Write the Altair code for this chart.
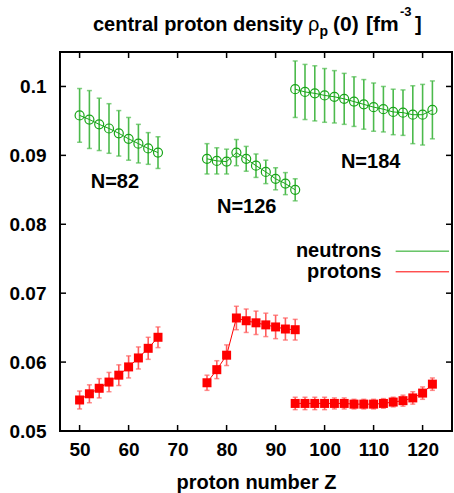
import altair as alt
import pandas as pd

# ---------------- data ----------------
z82 = [50, 52, 54, 56, 58, 60, 62, 64, 66]
n82 = [0.0958, 0.0952, 0.0945, 0.0939, 0.0932, 0.0924, 0.0917, 0.0910, 0.0904]
n82_err = [0.0039, 0.0042, 0.0038, 0.0036, 0.0033, 0.0031, 0.0028, 0.0023, 0.0023]
p82 = [0.0545, 0.0554, 0.0562, 0.0571, 0.0581, 0.0593, 0.0606, 0.0620, 0.0636]
p82_err = [0.0013, 0.0013, 0.0014, 0.0014, 0.0015, 0.0016, 0.0016, 0.0016, 0.0015]

z126 = [76, 78, 80, 82, 84, 86, 88, 90, 92, 94]
n126 = [0.0895, 0.0892, 0.0891, 0.0904, 0.0895, 0.0885, 0.0876, 0.0866, 0.0859, 0.0850]
n126_err = [0.0022, 0.0019, 0.0018, 0.0019, 0.0018, 0.0017, 0.0017, 0.0016, 0.0016, 0.0016]
p126 = [0.0570, 0.0589, 0.0610, 0.0664, 0.0660, 0.0657, 0.0654, 0.0651, 0.0648, 0.0647]
p126_err = [0.0011, 0.0013, 0.0015, 0.0017, 0.0017, 0.0017, 0.0017, 0.0017, 0.0016, 0.0015]

z184 = [94, 96, 98, 100, 102, 104, 106, 108, 110, 112, 114, 116, 118, 120, 122]
n184 = [0.0996, 0.0992, 0.0990, 0.0987, 0.0985, 0.0982, 0.0978, 0.0974, 0.0970,
        0.0967, 0.0963, 0.0962, 0.0959, 0.0959, 0.0966]
n184_err = [0.0041, 0.0040, 0.0040, 0.0039, 0.0038, 0.0037, 0.0036, 0.0036, 0.0035,
            0.0033, 0.0033, 0.0033, 0.0042, 0.0044, 0.0042]
p184 = [0.0540, 0.0540, 0.0540, 0.0540, 0.0540, 0.0540, 0.0539, 0.0539, 0.0539,
        0.0540, 0.0542, 0.0544, 0.0548, 0.0555, 0.0568]
p184_err = [0.0009, 0.0009, 0.0009, 0.0009, 0.0008, 0.0008, 0.0007, 0.0007, 0.0007,
            0.0007, 0.0007, 0.0008, 0.0009, 0.0009, 0.0009]

x_ticks = [50, 60, 70, 80, 90, 100, 110, 120]
y_ticks = [0.05, 0.06, 0.07, 0.08, 0.09, 0.1]

labels = ["N=82", "N=126", "N=184"]
label_z = [57.2, 84.1, 109.4]
label_v = [0.0853, 0.0816, 0.0882]

legend_names = ["neutrons", "protons"]
legend_text_z = [111.6, 111.6]
legend_text_v = [0.07525, 0.0722]
legend_line_z = [114.5, 114.5]
legend_line_z2 = [125.4, 125.4]
legend_line_v = [0.0761, 0.0731]

# ---------------- build tables ----------------
rows = []
for grp, zz, nv, ne, pv, pe in [("82", z82, n82, n82_err, p82, p82_err),
                                ("126", z126, n126, n126_err, p126, p126_err),
                                ("184", z184, n184, n184_err, p184, p184_err)]:
    for z, v, e in zip(zz, nv, ne):
        rows.append(dict(Z=z, v=v, lo=v - e, hi=v + e, sp="neutrons", N=grp))
    for z, v, e in zip(zz, pv, pe):
        rows.append(dict(Z=z, v=v, lo=v - e, hi=v + e, sp="protons", N=grp))
df = pd.DataFrame(rows)
dn = df[df.sp == "neutrons"]
dp = df[df.sp == "protons"]

GREEN = "#18a518"
GREEN_L = "#4cba4c"
RED = "#ff0000"
RED_L = "#ff5c5c"
FONT = "Liberation Sans"

W, H = 392, 379
xs = alt.Scale(domain=[46, 126], nice=False)
ys = alt.Scale(domain=[0.05, 0.105], nice=False, zero=False)

XAX = alt.Axis(values=x_ticks, tickSize=0, domain=False, grid=False,
               labelPadding=9, labelFontSize=19, titleY=57,
               titleBaseline="alphabetic", title="proton number Z")
YAX = alt.Axis(values=y_ticks, format=".2~f", tickSize=0, domain=False,
               grid=False, labelPadding=14, labelFontSize=19, title=None)


def xq(f):
    return alt.X(f"{f}:Q", scale=xs, axis=XAX, title="proton number Z")


def yq(f):
    return alt.Y(f"{f}:Q", scale=ys, axis=YAX, title=None)


def series(d, col, col_l, shape, filled):
    bars = alt.Chart(d).mark_rule(color=col_l, strokeWidth=1.6).encode(
        x=xq("Z"), y=yq("lo"), y2="hi:Q")
    cap_lo = alt.Chart(d).mark_tick(color=col_l, orient="horizontal", size=5,
                                    thickness=1.5).encode(x=xq("Z"), y=yq("lo"))
    cap_hi = alt.Chart(d).mark_tick(color=col_l, orient="horizontal", size=5,
                                    thickness=1.5).encode(x=xq("Z"), y=yq("hi"))
    line = alt.Chart(d).mark_line(color=col, strokeWidth=1).encode(
        x=xq("Z"), y=yq("v"), detail="N:N")
    if filled:
        pts = alt.Chart(d).mark_point(shape=shape, filled=True, size=81, color=col,
                                      opacity=1).encode(x=xq("Z"), y=yq("v"))
    else:
        pts = alt.Chart(d).mark_point(shape=shape, filled=False, size=81, color=col,
                                      strokeWidth=1.2, opacity=1).encode(
            x=xq("Z"), y=yq("v"))
    return [bars, cap_lo, cap_hi, line, pts]


# inward ticks on all four sides
tx = pd.DataFrame({"t": x_ticks})
ty = pd.DataFrame({"t": y_ticks})
tick_b = alt.Chart(tx).mark_rule(color="black", strokeWidth=1.5).encode(
    x=xq("t"), y=alt.value(H), y2=alt.value(H - 6))
tick_t = alt.Chart(tx).mark_rule(color="black", strokeWidth=1.5).encode(
    x=xq("t"), y=alt.value(0), y2=alt.value(6))
tick_l = alt.Chart(ty).mark_rule(color="black", strokeWidth=1.5).encode(
    y=yq("t"), x=alt.value(0), x2=alt.value(6))
tick_r = alt.Chart(ty).mark_rule(color="black", strokeWidth=1.5).encode(
    y=yq("t"), x=alt.value(W), x2=alt.value(W - 6))

# N= labels
lab_df = pd.DataFrame({"txt": labels, "Z": label_z, "v": label_v})
lab = alt.Chart(lab_df).mark_text(font=FONT, fontSize=20, fontWeight="bold",
                                  color="black", align="center",
                                  baseline="alphabetic").encode(
    x=xq("Z"), y=yq("v"), text="txt:N")

# legend
leg_df = pd.DataFrame({"name": legend_names, "tz": legend_text_z, "tv": legend_text_v,
                       "lz": legend_line_z, "lz2": legend_line_z2, "lv": legend_line_v})
leg_text = alt.Chart(leg_df).mark_text(font=FONT, fontSize=20, fontWeight="bold",
                                       color="black", align="right",
                                       baseline="alphabetic").encode(
    x=xq("tz"), y=yq("tv"), text="name:N")
leg_line = alt.Chart(leg_df).mark_rule(strokeWidth=1).encode(
    x=xq("lz"), x2="lz2:Q", y=yq("lv"),
    color=alt.Color("name:N", scale=alt.Scale(domain=legend_names,
                                              range=[GREEN, RED]), legend=None))

# title pieces (rich text: subscript / superscript)
one = pd.DataFrame({"a": [0]})


def tpiece(txt, x, y, size, weight="bold"):
    return alt.Chart(one).mark_text(text=txt, font=FONT, fontSize=size,
                                    fontWeight=weight, color="black", align="left",
                                    baseline="alphabetic").encode(
        x=alt.value(x), y=alt.value(y))


title_parts = [
    tpiece("central proton density", 33, -21, 20),
    tpiece("ρ", 248, -21, 20, "normal"),
    tpiece("p", 259.5, -16, 14),
    tpiece("(0)", 273, -21, 21),
    tpiece("[fm", 306, -21, 21),
    tpiece("-3", 340, -36, 13),
    tpiece("]", 355, -21, 20),
]

layers = (series(dn, GREEN, GREEN_L, "circle", False)
          + series(dp, RED, RED_L, "square", True)
          + [tick_b, tick_t, tick_l, tick_r, lab, leg_text, leg_line] + title_parts)

chart = alt.layer(*layers).properties(
    width=W, height=H,
    autosize=alt.AutoSizeParams(type="none"),
    padding={"left": 60, "top": 52, "right": 2, "bottom": 62},
    background="white",
).configure_view(
    stroke="black", strokeWidth=2
).configure_axis(
    labelFont=FONT, labelFontWeight="bold", labelColor="black",
    titleFont=FONT, titleFontWeight="bold", titleColor="black", titleFontSize=20,
)

chart.save("out.html", embed_options={"renderer": "svg", "actions": False})
